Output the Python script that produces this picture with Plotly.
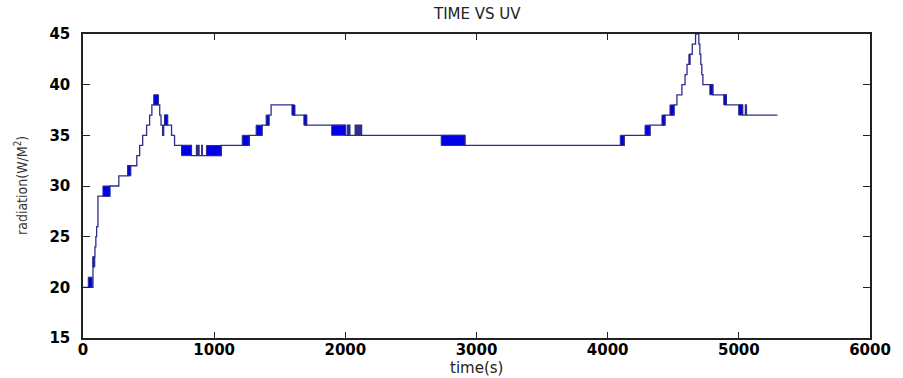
import plotly.graph_objects as go

# Step data: value holds from each time until the next time (seconds, W/M^2)
times = [0, 76, 91, 98, 104, 114, 205, 273, 341, 410, 432, 455, 485, 508, 525,
         576, 585, 595, 607, 615, 622, 645, 675, 698, 751, 827,
         865, 870, 880, 885, 905, 910, 1054,
         1267, 1365, 1418, 1434, 1600, 1700, 2002,
         2017, 2022, 2030, 2035, 2075, 2080, 2090, 2095, 2105, 2110, 2120, 2124,
         2912, 4126, 4323, 4437, 4506, 4528, 4566, 4590, 4605, 4627, 4645, 4670,
         4695, 4703, 4710, 4718, 4726, 4802, 4905, 5029, 5050, 5058, 5294]
values = [20, 23, 24, 25, 26, 29, 30, 31, 32, 33, 34, 35, 36, 37, 38,
          38, 37, 36, 35, 36, 37, 36, 35, 34, 34, 33,
          34, 33, 34, 33, 34, 33, 34,
          35, 36, 37, 38, 37, 36, 35,
          36, 35, 36, 35, 36, 35, 36, 35, 36, 35, 36, 35,
          34, 35, 36, 37, 38, 39, 40, 41, 42, 43, 44, 45,
          44, 43, 42, 41, 40, 39, 38, 37, 38, 37, 37]

# Dense toggling between two adjacent levels (drawn as filled bands)
block_start = [40, 76, 152, 341, 539, 622, 751, 941, 1214, 1320, 1396, 1593, 1684,
               1896, 2731, 4096, 4285, 4414, 4475, 4619, 4779, 4885, 4999]
block_end = [70, 90, 205, 365, 576, 645, 827, 1054, 1267, 1365, 1418, 1616, 1707,
             2002, 2912, 4126, 4323, 4437, 4506, 4627, 4802, 4905, 5029]
block_low = [20, 22, 29, 31, 38, 36, 33, 33, 34, 35, 36, 37, 36,
             35, 34, 34, 35, 36, 37, 42, 39, 38, 37]

x_ticks = [0, 1000, 2000, 3000, 4000, 5000, 6000]
y_ticks = [15, 20, 25, 30, 35, 40, 45]

line_col = "#2e2e88"
fill_col = "#0000e8"

bx, by = [], []
for s, e, lo in zip(block_start, block_end, block_low):
    bx += [s, e, e, s, s, None]
    by += [lo, lo, lo + 1, lo + 1, lo, None]

fig = go.Figure()
fig.add_trace(go.Scatter(x=times, y=values, mode="lines",
                         line=dict(color=line_col, width=1.3, shape="hv"),
                         showlegend=False, hoverinfo="skip"))
fig.add_trace(go.Scatter(x=bx, y=by, mode="lines", fill="toself",
                         fillcolor=fill_col, line=dict(color=line_col, width=1),
                         showlegend=False, hoverinfo="skip"))

tick_font = dict(family="DejaVu Sans", size=15, color="black", weight="bold")
axis_common = dict(showgrid=False, zeroline=False, mirror="ticks", showline=True,
                   linecolor="#222222", linewidth=1.5, ticks="inside",
                   tickcolor="#222222", tickfont=tick_font)

fig.update_xaxes(range=[0, 6000], tickvals=x_ticks, ticklen=6,
                 ticklabelstandoff=-3, **axis_common)
fig.update_yaxes(range=[15, 45], tickvals=y_ticks, ticklen=7,
                 ticklabelstandoff=8, **axis_common)

fig.update_layout(
    width=903, height=378,
    margin=dict(l=83, r=29, t=34, b=40),
    paper_bgcolor="white", plot_bgcolor="white",
    annotations=[
        dict(text="TIME VS UV", xref="paper", yref="paper", x=0.5, y=1,
             yshift=20, xanchor="center", yanchor="middle", showarrow=False,
             font=dict(family="DejaVu Sans", size=15, color="#222222")),
        dict(text="time(s)", xref="paper", yref="paper", x=0.5, y=0,
             yshift=-30, xanchor="center", yanchor="middle", showarrow=False,
             font=dict(family="DejaVu Sans", size=15, color="#222222")),
        dict(text="radiation(W/M<sup>2</sup>)", xref="paper", yref="paper",
             x=0, xshift=-62, y=0.5, xanchor="center", yanchor="middle",
             textangle=-90, showarrow=False,
             font=dict(family="Liberation Sans Narrow, DejaVu Sans Condensed, Liberation Sans",
                       size=14, color="#333333")),
    ],
)

fig.write_html("out.html")
